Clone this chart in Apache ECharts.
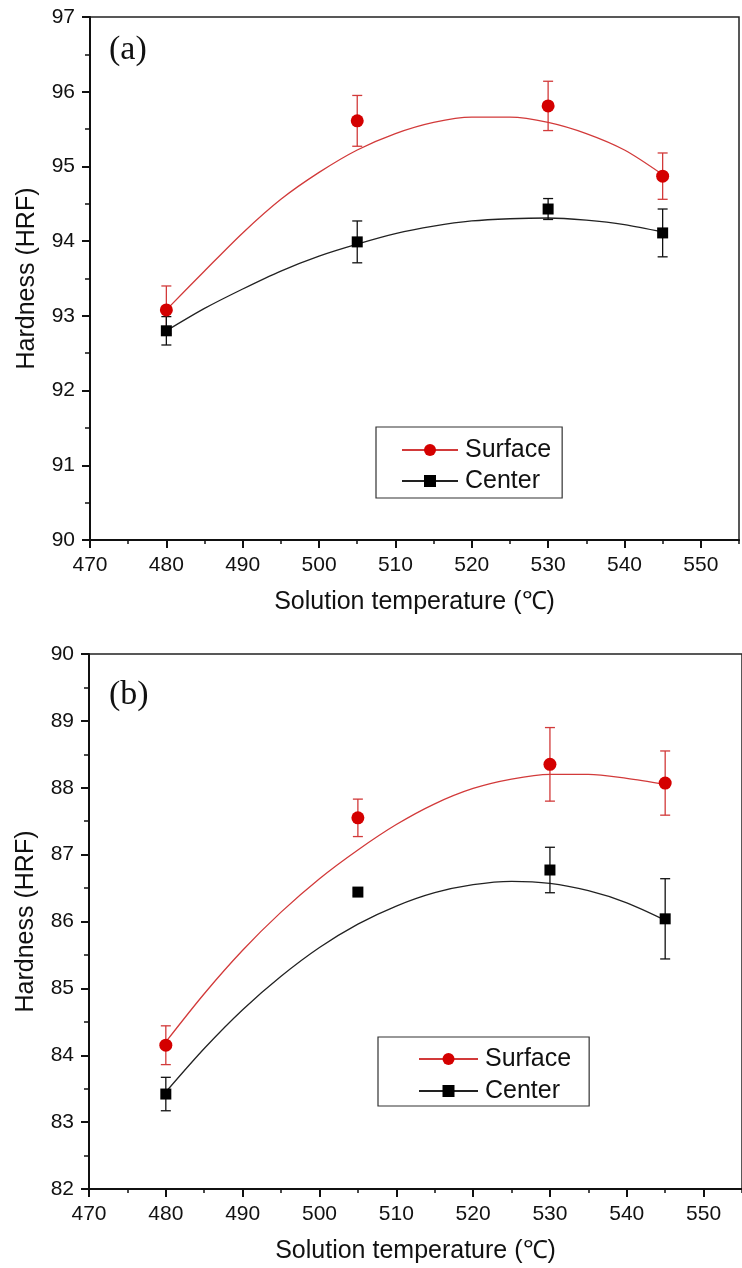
<!DOCTYPE html>
<html>
<head>
<meta charset="utf-8">
<script src="https://cdn.jsdelivr.net/npm/echarts@6/dist/echarts.min.js"></script>
<style>
html,body{margin:0;padding:0;background:#fff;}
#chart{width:742px;height:1268px;}
</style>
</head>
<body>
<div id="chart"></div>
<script>
// ---- data ----
const temps = [480, 505, 530, 545];
const xTicks = [470, 480, 490, 500, 510, 520, 530, 540, 550];

const surfaceA = [93.08, 95.61, 95.81, 94.87];
const surfaceAErr = [0.32, 0.34, 0.33, 0.31];
const centerA = [92.80, 93.99, 94.43, 94.11];
const centerAErr = [0.19, 0.28, 0.14, 0.32];

const surfaceB = [84.15, 87.55, 88.35, 88.07];
const surfaceBErr = [0.29, 0.28, 0.55, 0.48];
const centerB = [83.42, 86.44, 86.77, 86.04];
const centerBErr = [0.25, 0.05, 0.34, 0.60];

const fitTemps = [480, 485, 490, 495, 500, 505, 510, 515, 520, 525, 530, 535, 540, 545];
const surfaceAFit = [93.08, 93.60, 94.11, 94.56, 94.92, 95.22, 95.44, 95.59, 95.66, 95.66, 95.59, 95.44, 95.22, 94.89];
const centerAFit  = [92.80, 93.10, 93.36, 93.60, 93.80, 93.96, 94.10, 94.20, 94.27, 94.30, 94.31, 94.28, 94.22, 94.12];
const surfaceBFit = [84.20, 84.92, 85.57, 86.14, 86.64, 87.07, 87.45, 87.76, 87.99, 88.13, 88.20, 88.20, 88.14, 88.05];
const centerBFit  = [83.45, 84.10, 84.68, 85.18, 85.61, 85.96, 86.23, 86.43, 86.55, 86.60, 86.57, 86.46, 86.28, 86.02];

const RED = '#d40000';
const RED_LINE = '#d23a3a';
const BLACK = '#000000';
const FONT = "'Liberation Sans', Arial, sans-serif";

function zip(xs, ys) { return xs.map((x, i) => [x, ys[i]]); }
function errData(xs, ys, es) { return xs.map((x, i) => [x, ys[i] - es[i], ys[i] + es[i]]); }

function errSeries(data, color, g) {
  return {
    type: 'custom', xAxisIndex: g * 2, yAxisIndex: g * 2, z: 3, silent: true,
    data: data,
    encode: { x: 0, y: [1, 2] },
    renderItem: function (params, api) {
      const x = api.value(0);
      const lo = api.coord([x, api.value(1)]);
      const hi = api.coord([x, api.value(2)]);
      const hw = 5;
      const st = { stroke: color, lineWidth: 1.3, fill: null };
      return {
        type: 'group',
        children: [
          { type: 'line', shape: { x1: lo[0], y1: lo[1], x2: hi[0], y2: hi[1] }, style: st },
          { type: 'line', shape: { x1: lo[0] - hw, y1: lo[1], x2: lo[0] + hw, y2: lo[1] }, style: st },
          { type: 'line', shape: { x1: hi[0] - hw, y1: hi[1], x2: hi[0] + hw, y2: hi[1] }, style: st }
        ]
      };
    }
  };
}

function fitSeries(name, data, color, symbol, g) {
  return {
    name: name, type: 'line', xAxisIndex: g * 2, yAxisIndex: g * 2,
    data: data, smooth: 0.3, showSymbol: false, symbol: symbol, symbolSize: 12,
    lineStyle: { color: color, width: 1.3 },
    itemStyle: { color: symbol === 'circle' ? RED : BLACK },
    z: 2, silent: true
  };
}

function pointSeries(name, data, color, symbol, size, g) {
  return {
    name: name, type: 'scatter', xAxisIndex: g * 2, yAxisIndex: g * 2,
    data: data, symbol: symbol, symbolSize: size,
    itemStyle: { color: color, opacity: 1 }, z: 4, silent: true
  };
}

function xAxes(g, title, gap) {
  return [
    {
      gridIndex: g, type: 'value', min: 470, max: 555, interval: 10, position: 'bottom',
      name: title, nameLocation: 'middle', nameGap: gap,
      nameTextStyle: { fontFamily: FONT, fontSize: 25, color: '#111' },
      axisLine: { show: true, onZero: false, lineStyle: { color: '#111', width: 2 } },
      axisTick: { show: true, inside: false, length: 8, customValues: xTicks, lineStyle: { color: '#111', width: 2 } },
      axisLabel: { show: true, margin: 15, customValues: xTicks, fontFamily: FONT, fontSize: 21, color: '#111' },
      splitLine: { show: false }
    },
    {
      gridIndex: g, type: 'value', min: 470, max: 555, interval: 5, position: 'bottom',
      axisLine: { show: false, onZero: false },
      axisTick: { show: true, inside: false, length: 4, lineStyle: { color: '#111', width: 1.5 } },
      axisLabel: { show: false },
      splitLine: { show: false }
    }
  ];
}

function yAxes(g, min, max) {
  return [
    {
      gridIndex: g, type: 'value', min: min, max: max, interval: 1, position: 'left',
      name: 'Hardness (HRF)', nameLocation: 'middle', nameGap: 50,
      nameTextStyle: { fontFamily: FONT, fontSize: 25, color: '#111' },
      axisLine: { show: true, onZero: false, lineStyle: { color: '#111', width: 2 } },
      axisTick: { show: true, inside: false, length: 8, lineStyle: { color: '#111', width: 2 } },
      minorTick: { show: true, splitNumber: 2, length: 5, lineStyle: { color: '#111', width: 1.5 } },
      axisLabel: { margin: 15, fontFamily: FONT, fontSize: 21, color: '#111' },
      splitLine: { show: false }, minorSplitLine: { show: false }
    },
    {
      gridIndex: g, type: 'value', min: min, max: max, interval: 1, position: 'left', show: false
    }
  ];
}

const option = {
  backgroundColor: '#fff',
  animation: false,
  grid: [
    { left: 90, top: 17, width: 649, height: 523, show: true, borderColor: '#222', borderWidth: 1.5, backgroundColor: 'transparent' },
    { left: 89, top: 654, width: 668, height: 535, show: true, borderColor: '#222', borderWidth: 1.5, backgroundColor: 'transparent' }
  ],
  xAxis: [].concat(xAxes(0, 'Solution temperature (\u2103)', 50), xAxes(1, 'Solution temperature (\u2103)', 50)),
  yAxis: [].concat(yAxes(0, 90, 97), yAxes(1, 82, 90)),
  legend: [
    {
      left: 376, top: 427, orient: 'vertical',
      padding: [10, 11, 4, 25], itemGap: 5, itemWidth: 56, itemHeight: 15,
      borderColor: '#333', borderWidth: 1.2, backgroundColor: '#fff',
      textStyle: { fontFamily: FONT, fontSize: 25, color: '#111', lineHeight: 26, padding: [0, 0, 0, 2] },
      data: ['Surface', 'Center'], selectedMode: false
    },
    {
      left: 378, top: 1037, orient: 'vertical',
      padding: [9, 18, 2, 40], itemGap: 6, itemWidth: 59, itemHeight: 15,
      borderColor: '#333', borderWidth: 1.2, backgroundColor: '#fff',
      textStyle: { fontFamily: FONT, fontSize: 25, color: '#111', lineHeight: 26, padding: [0, 0, 0, 2] },
      data: ['Surface', 'Center'], selectedMode: false
    }
  ],
  graphic: [
    { type: 'text', left: 109, top: 33, style: { text: '(a)', font: "34px 'Liberation Serif', 'Times New Roman', serif", fill: '#111' } },
    { type: 'text', left: 109, top: 678, style: { text: '(b)', font: "34px 'Liberation Serif', 'Times New Roman', serif", fill: '#111' } }
  ],
  series: [
    fitSeries('Surface', zip(fitTemps, surfaceAFit), RED_LINE, 'circle', 0),
    fitSeries('Center', zip(fitTemps, centerAFit), '#222', 'rect', 0),
    errSeries(errData(temps, surfaceA, surfaceAErr), RED_LINE, 0),
    errSeries(errData(temps, centerA, centerAErr), '#111', 0),
    pointSeries('Surface (a) points', zip(temps, surfaceA), RED, 'circle', 13, 0),
    pointSeries('Center (a) points', zip(temps, centerA), BLACK, 'rect', 11, 0),

    fitSeries('Surface', zip(fitTemps, surfaceBFit), RED_LINE, 'circle', 1),
    fitSeries('Center', zip(fitTemps, centerBFit), '#222', 'rect', 1),
    errSeries(errData(temps, surfaceB, surfaceBErr), RED_LINE, 1),
    errSeries(errData(temps, centerB, centerBErr), '#111', 1),
    pointSeries('Surface (b) points', zip(temps, surfaceB), RED, 'circle', 13, 1),
    pointSeries('Center (b) points', zip(temps, centerB), BLACK, 'rect', 11, 1)
  ]
};

const chart = echarts.init(document.getElementById('chart'), null, { renderer: 'canvas' });
chart.setOption(option);
</script>
</body>
</html>
